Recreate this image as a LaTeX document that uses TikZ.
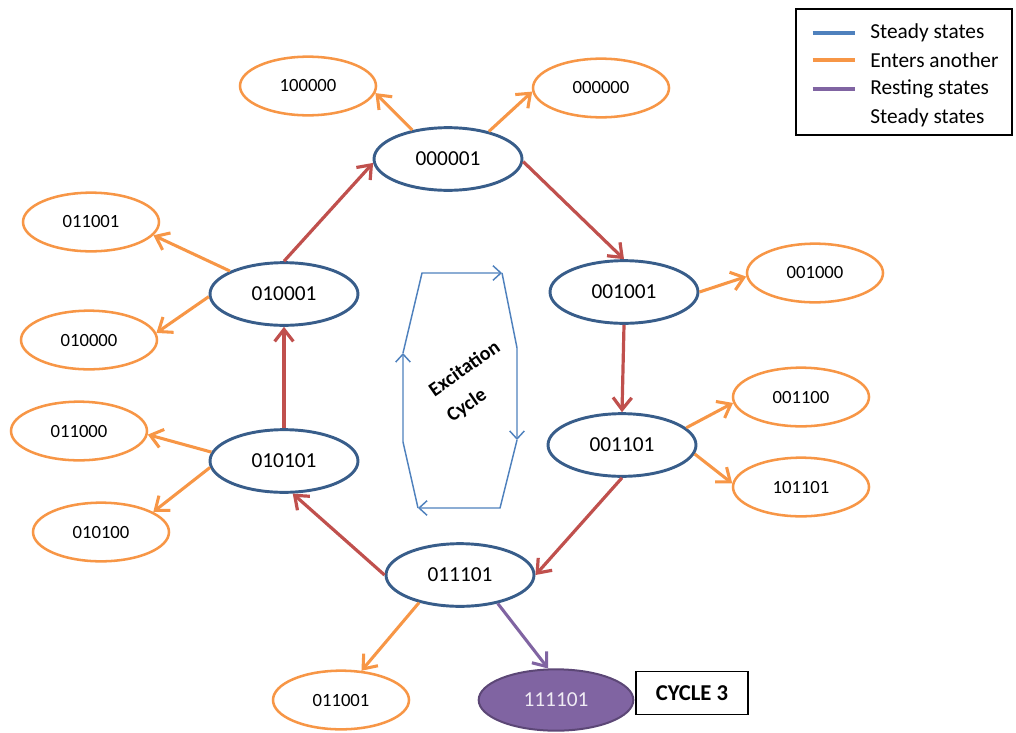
\documentclass[tikz,border=0pt]{standalone}
\usepackage{fontspec}
\setmainfont{Carlito}
\usetikzlibrary{arrows.meta, shapes.geometric}
\definecolor{Navy}{HTML}{385D8A}
\definecolor{Sky}{HTML}{4F81BD}
\definecolor{Amber}{HTML}{F79646}
\definecolor{Brick}{HTML}{C0504D}
\definecolor{Plum}{HTML}{8064A2}
\definecolor{PlumDark}{HTML}{5C4776}

\begin{document}
\begin{tikzpicture}[x=0.75pt, y=-0.75pt,
      state/.style={ellipse, draw=Navy, line width=2.2pt, minimum width=111pt,
                  minimum height=47pt, inner sep=0pt, font=\fontsize{16}{18}\selectfont},
      exit/.style={ellipse, draw=Amber, line width=1.9pt, minimum width=102pt,
                  minimum height=44pt, inner sep=0pt, font=\fontsize{14}{16}\selectfont},
      rest/.style={ellipse, draw=PlumDark, fill=Plum, line width=1.5pt, minimum width=116pt,
                  minimum height=46pt, inner sep=0pt, text=white!88!Plum,
                  font=\fontsize{16}{18}\selectfont},
      barb/.style={-{Straight Barb[length=9pt, width=14pt]}},
      advance/.style={barb, Brick, line width=2.4pt},
      leave/.style={barb, Amber, line width=2.3pt},
      settle/.style={barb, Plum, line width=2.3pt},
      excite/.style={-{Straight Barb[length=6pt, width=11pt]}, Sky, line width=1.1pt},
      tilted/.style={rotate=35, inner sep=0pt, font=\fontsize{15}{18}\selectfont\bfseries},
      legtext/.style={anchor=west, inner sep=0pt, font=\fontsize{16}{18}\selectfont}]

    \useasboundingbox (0,0) rectangle (1016,732);

    % states of the cycle
    \node[state] (s000001) at (448,159) {000001};
    \node[state] (s001001) at (624,292) {001001};
    \node[state] (s001101) at (622,445) {001101};
    \node[state] (s011101) at (460,575) {011101};
    \node[state] (s010101) at (284,461) {010101};
    \node[state] (s010001) at (284,294) {010001};

    % states that leave the cycle
    \node[exit] (e100000) at (308,86) {100000};
    \node[exit] (e000000) at (601,88) {000000};
    \node[exit] (e011001a) at (91,222) {011001};
    \node[exit] (e010000) at (89,340) {010000};
    \node[exit] (e011000) at (79,431) {011000};
    \node[exit] (e010100) at (101,532) {010100};
    \node[exit] (e001000) at (815,273) {001000};
    \node[exit] (e001100) at (801,397) {001100};
    \node[exit] (e101101) at (801,487) {101101};
    \node[exit] (e011001b) at (341,700) {011001};

    \node[rest] (r111101) at (556,700) {111101};
    \node[draw, line width=1.1pt, minimum width=84pt, minimum height=32pt,
          font=\fontsize{17}{19}\selectfont\bfseries] (cycle) at (692,693) {CYCLE 3};

    \draw[advance] (s010001.north) -- (s000001.183);
    \draw[advance] (s000001.-2) -- (s001001.north);
    \draw[advance] (s001001.south) -- (s001101.north);
    \draw[advance] (s001101.south) -- (s011101.east);
    \draw[advance] (s011101.west) -- (s010101.-75);
    \draw[advance] (s010101.north) -- (s010001.south);

    \draw[leave] (s000001.141) -- (e100000.-6);
    \draw[leave] (s000001.34) -- (e000000.183);
    \draw[leave] (s010001.157) -- (e011001a.-12);
    \draw[leave] (s010001.182) -- (e010000.6);
    \draw[leave] (s010101.173) -- (e011000.-3);
    \draw[leave] (s010101.185) -- (e010100.21);
    \draw[leave] (s001001.0) -- (e001000.183);
    \draw[leave] (s001101.15) -- (e001100.185);
    \draw[leave] (s001101.-7) -- (e101101.177);
    \draw[leave] (s011101.214) -- (e011001b.55);
    \draw[settle] (s011101.-37) -- (r111101.104);

    % excitation loop in the middle
    \draw[excite] (403,353) -- (422,273) -- (502,273);
    \draw[excite] (502,273) -- (517,348) -- (517,440);
    \draw[excite] (517,440) -- (500,508) -- (418,508);
    \draw[excite] (418,508) -- (403,442) -- (403,353);
    \node[tilted] (word1) at (464,368) {Excitation};
    \node[tilted] (word2) at (467,406) {Cycle};

    % legend
    \draw[line width=1.1pt] (796,9) rectangle (1012,135);
    \node[legtext] (l1) at (870,33) {Steady states};
    \node[legtext] (l2) at (870,60) {Enters another};
    \node[legtext] (l3) at (870,89) {Resting states};
    \node[legtext] (l4) at (870,118) {Steady states};
    \draw[Sky, line width=2.6pt] ([xshift=-43pt]l1.west) -- ([xshift=-11pt]l1.west);
    \draw[Amber, line width=2.6pt] ([xshift=-43pt]l2.west) -- ([xshift=-11pt]l2.west);
    \draw[Plum, line width=2.6pt] ([xshift=-43pt]l3.west) -- ([xshift=-11pt]l3.west);
  \end{tikzpicture}
\end{document}
